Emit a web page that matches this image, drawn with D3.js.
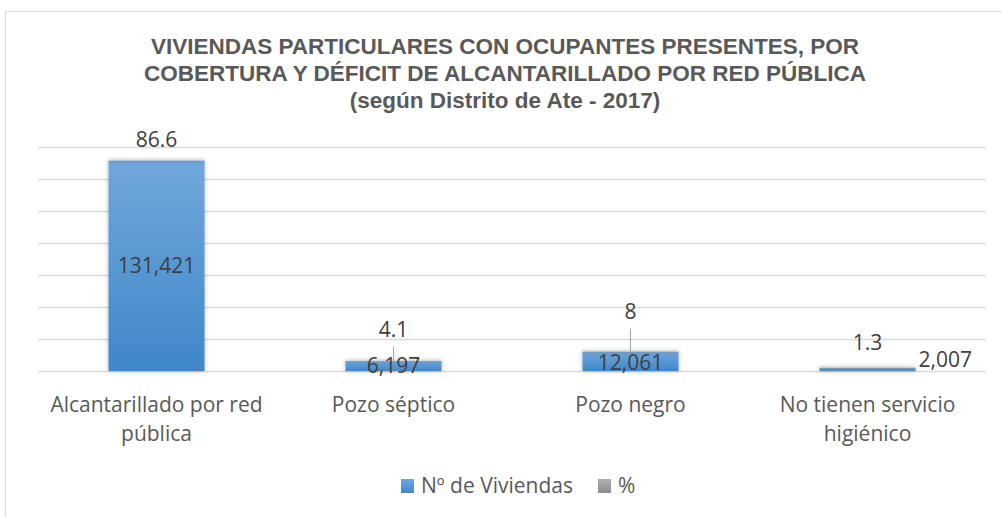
<!DOCTYPE html>
<html lang="es">
<head>
<meta charset="UTF-8">
<script src="https://d3js.org/d3.v7.min.js"></script>
<style>
  * { margin: 0; padding: 0; }
  body { background: #fff; }
  svg { display: block; }
</style>
</head>
<body>
<svg id="chart" width="1002" height="517"></svg>
<script>
// datos
var categories = [['Alcantarillado por red', 'pública'], ['Pozo séptico'], ['Pozo negro'], ['No tienen servicio', 'higiénico']];
var viviendas = [131421, 6197, 12061, 2007];
var porcentaje = [86.6, 4.1, 8, 1.3];
var seriesNames = ['Nº de Viviendas', '%'];
var titleLines = ['VIVIENDAS PARTICULARES CON OCUPANTES PRESENTES, POR', 'COBERTURA Y DÉFICIT DE ALCANTARILLADO POR RED PÚBLICA', '(según Distrito de Ate - 2017)'];
var yMax = 140000, yStep = 20000;

// ajustes de etiquetas (Excel las movió a mano)
var pctLabelGap = [14, 24, 33, 18];       // px sobre la barra
var pctLeader = [false, true, true, false];
var countLabelShift = [[0, 0], [0, 0], [0, 1], [81, -10]];

var W = 1002, H = 517;
var m = { left: 38, right: 986, top: 147, bottom: 371 };
var FONT = 'Open Sans, sans-serif';

var svg = d3.select('#chart');
var defs = svg.append('defs');

var gBlue = defs.append('linearGradient').attr('id', 'gBlue').attr('x1', 0).attr('y1', 0).attr('x2', 0).attr('y2', 1);
gBlue.append('stop').attr('offset', '0%').attr('stop-color', '#71a7dc');
gBlue.append('stop').attr('offset', '100%').attr('stop-color', '#3f87c9');
var gGrey = defs.append('linearGradient').attr('id', 'gGrey').attr('x1', 0).attr('y1', 0).attr('x2', 0).attr('y2', 1);
gGrey.append('stop').attr('offset', '0%').attr('stop-color', '#b0b0b0');
gGrey.append('stop').attr('offset', '100%').attr('stop-color', '#8c8c8c');

var shadow = defs.append('filter').attr('id', 'shadow').attr('x', '-20%').attr('y', '-20%').attr('width', '140%').attr('height', '140%');
shadow.append('feDropShadow').attr('dx', 0).attr('dy', 0).attr('stdDeviation', 2).attr('flood-color', '#000').attr('flood-opacity', 0.3);

// marco
svg.append('rect').attr('x', 5.5).attr('y', 11.5).attr('width', W).attr('height', H)
  .attr('fill', '#fff').attr('stroke', '#d9d9d9').attr('stroke-width', 1);

// título
svg.append('g').selectAll('text').data(titleLines).join('text')
  .attr('x', 505).attr('y', function(d, i) { return 54 + i * 27; })
  .attr('text-anchor', 'middle')
  .attr('font-family', 'Liberation Sans, Arial, sans-serif')
  .attr('font-weight', 'bold').attr('font-size', '22.5px')
  .attr('fill', '#595959')
  .text(function(d) { return d; });

var x = d3.scaleBand().domain(d3.range(categories.length)).range([m.left, m.right]).paddingInner(0.595).paddingOuter(0.2975);
var y = d3.scaleLinear().domain([0, yMax]).range([m.bottom, m.top]);

// cuadrícula
svg.append('g').selectAll('line').data(d3.range(0, yMax + 1, yStep)).join('line')
  .attr('x1', m.left).attr('x2', m.right)
  .attr('y1', function(d) { return Math.round(y(d)) + 0.5; })
  .attr('y2', function(d) { return Math.round(y(d)) + 0.5; })
  .attr('stroke', '#d9d9d9').attr('stroke-width', 1.3);

// barras apiladas
var stackData = viviendas.map(function(v, i) { return { i: i, v: v, p: porcentaje[i] }; });
var stack = d3.stack().keys(['v', 'p'])(stackData);
var fills = ['url(#gBlue)', 'url(#gGrey)'];

svg.append('g').selectAll('g').data(stack).join('g')
  .attr('fill', function(d, k) { return fills[k]; })
  .attr('filter', 'url(#shadow)')
  .selectAll('rect').data(function(d) { return d; }).join('rect')
  .attr('x', function(d) { return x(d.data.i); })
  .attr('width', x.bandwidth())
  .attr('y', function(d) { return y(d[1]); })
  .attr('height', function(d) { return Math.max(y(d[0]) - y(d[1]), 0.8); });

// etiquetas de conteo
var fmt = d3.format(',');
svg.append('g').selectAll('text').data(stackData).join('text')
  .attr('x', function(d) { return x(d.i) + x.bandwidth() / 2 + countLabelShift[d.i][0]; })
  .attr('y', function(d) { return (y(0) + y(d.v)) / 2 + countLabelShift[d.i][1]; })
  .attr('dy', '0.35em')
  .attr('text-anchor', function(d) { return countLabelShift[d.i][0] ? 'start' : 'middle'; })
  .attr('dx', function(d) { return countLabelShift[d.i][0] ? -30 : 0; })
  .attr('font-family', FONT).attr('font-size', '21px')
  .attr('fill', '#404040')
  .text(function(d) { return fmt(d.v); });

// etiquetas de %
var pctG = svg.append('g');
pctG.selectAll('line').data(stackData.filter(function(d) { return pctLeader[d.i]; })).join('line')
  .attr('x1', function(d) { return x(d.i) + x.bandwidth() / 2; })
  .attr('x2', function(d) { return x(d.i) + x.bandwidth() / 2; })
  .attr('y1', function(d) { return y(d.v + d.p) - pctLabelGap[d.i] + 10; })
  .attr('y2', function(d) { return y(d.v + d.p); })
  .attr('stroke', '#a6a6a6').attr('stroke-width', 1);
pctG.selectAll('text').data(stackData).join('text')
  .attr('x', function(d) { return x(d.i) + x.bandwidth() / 2; })
  .attr('y', function(d) { return y(d.v + d.p) - pctLabelGap[d.i]; })
  .attr('text-anchor', 'middle')
  .attr('font-family', FONT).attr('font-size', '21px')
  .attr('fill', '#404040')
  .text(function(d) { return d.p; });

// categorías
var catG = svg.append('g').selectAll('text').data(categories).join('text')
  .attr('x', function(d, i) { return x(i) + x.bandwidth() / 2; })
  .attr('y', 412)
  .attr('text-anchor', 'middle')
  .attr('font-family', FONT).attr('font-size', '21px')
  .attr('fill', '#595959');
catG.selectAll('tspan').data(function(d) { return d; }).join('tspan')
  .attr('x', function() { return d3.select(this.parentNode).attr('x'); })
  .attr('dy', function(d, j) { return j ? 29 : 0; })
  .text(function(d) { return d; });

// leyenda
var legX = [401, 598];
var leg = svg.append('g').selectAll('g').data(seriesNames).join('g')
  .attr('transform', function(d, i) { return 'translate(' + legX[i] + ',479)'; });
leg.append('rect').attr('width', 13).attr('height', 14)
  .attr('fill', function(d, i) { return fills[i]; });
leg.append('text').attr('x', 20).attr('y', 14)
  .attr('font-family', FONT).attr('font-size', '21px')
  .attr('fill', '#595959')
  .text(function(d) { return d; });
</script>
</body>
</html>
